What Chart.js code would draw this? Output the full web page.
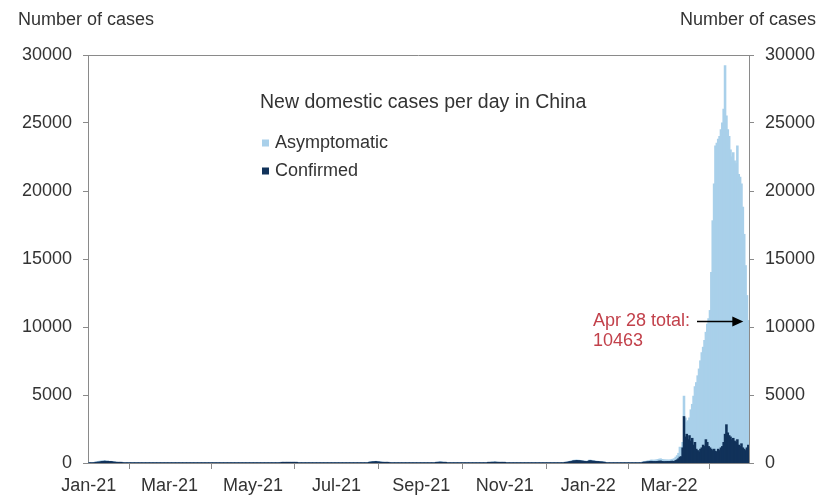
<!DOCTYPE html>
<html lang="en">
<head>
<meta charset="UTF-8">
<title>New domestic cases per day in China</title>
<script src="https://cdn.jsdelivr.net/npm/chart.js"></script>
<style>
  html, body { margin: 0; padding: 0; background: #fff; }
  #wrap { width: 821px; height: 497px; }
</style>
</head>
<body>
<div id="wrap"><canvas id="casesChart"></canvas></div>
<script>
// one bar per day
const firstDay = '2021-01-01';
const lastDay = '2022-04-28';

// x axis: first day of every other month
const tickDays = ['2021-01-01', '2021-03-01', '2021-05-01', '2021-07-01', '2021-09-01', '2021-11-01', '2022-01-01', '2022-03-01'];
const tickLabels = ['Jan-21', 'Mar-21', 'May-21', 'Jul-21', 'Sep-21', 'Nov-21', 'Jan-22', 'Mar-22'];

// Mar 1 - Apr 28 2022
const waveStart = '2022-03-01';
const waveConfirmed = [90, 100, 120, 110, 100, 170, 220, 300, 420, 450,
  1100, 3400, 1900, 2100, 1700, 2000, 1600, 1800, 1300, 1500,
  1000, 900, 800, 1000, 1100, 1300, 1200, 1700, 1500, 1200,
  1100, 1000, 900, 1000, 850, 800, 1000, 900, 1100, 1200,
  1500, 2100, 2800, 2200, 2000, 1900, 1700, 1800, 1600, 1500,
  1700, 1300, 1200, 1400, 1100, 1000, 900, 1100, 1300];
const waveAsymptomatic = [110, 110, 130, 160, 200, 250, 310, 400, 730, 650,
  400, 1500, 1400, 900, 1400, 1300, 2300, 2500, 3600, 4100,
  4900, 5500, 6100, 6500, 7000, 7200, 7800, 7900, 8700, 9400,
  10100, 13000, 16900, 19500, 22450, 22700, 22800, 23100, 23400, 23800,
  24500, 27100, 22700, 22300, 22000, 21100, 20800, 21000, 20600, 20500,
  21600, 19900, 19800, 19100, 17700, 15800, 13600, 11200, 9163];

// small outbreaks before that: [first day, confirmed, asymptomatic]
const smallOutbreaks = [
  ['2021-01-06', [20, 40, 50, 60, 80, 100, 110, 120, 100, 110, 90, 100, 80, 60, 50, 40, 30, 20, 15, 10],
                 [30, 40, 50, 60, 50, 40, 30, 30, 20, 20, 15, 10, 10, 8, 5, 5, 3, 2, 2, 1]],
  ['2021-05-22', [5, 8, 10, 15, 12, 10, 8, 6, 5, 4, 3, 2], [2, 3, 4, 5, 4, 3, 2, 2, 1, 1, 1, 1]],
  ['2021-07-25', [30, 50, 60, 70, 80, 90, 70, 60, 50, 40, 30, 25, 20, 15, 10],
                 [20, 25, 30, 30, 25, 20, 15, 10, 8, 6, 5, 4, 3, 2, 1]],
  ['2021-09-12', [20, 30, 40, 50, 40, 30, 20, 10], [10, 15, 20, 15, 10, 8, 5, 3]],
  ['2021-10-20', [10, 20, 30, 40, 40, 50, 40, 30, 30, 20, 20, 15, 10], [5, 8, 10, 12, 10, 8, 6, 5, 4, 3, 2, 2, 1]],
  ['2021-12-15', [20, 30, 50, 70, 90, 110, 140, 150, 160, 170, 160, 150, 140, 120, 110, 100, 90, 110, 160, 150, 130, 120, 110, 100, 90, 80, 70, 60, 50, 40],
                 [10, 10, 20, 20, 30, 30, 40, 40, 40, 30, 30, 30, 20, 20, 20, 20, 20, 30, 40, 40, 30, 30, 20, 20, 20, 20, 10, 10, 10, 10]],
  ['2022-02-10', [40, 50, 60, 70, 80, 100, 110, 100, 90, 90, 100, 110, 120, 130, 100, 90, 80, 90, 100],
                 [30, 40, 50, 60, 70, 80, 90, 100, 100, 110, 120, 130, 150, 160, 150, 140, 130, 120, 110]]
];

const axisTitle = 'Number of cases';
const legendTitle = 'New domestic cases per day in China';
const textGray = '#333333';
const axisGray = '#8a8a8a';
const noteRed = '#c2414b';
const fontFamily = 'Arial, "Liberation Sans", sans-serif';

// build the day list and fill the daily series
const days = [];
for (let t = Date.parse(firstDay); t <= Date.parse(lastDay); t += 86400000) {
  days.push(new Date(t).toISOString().slice(0, 10));
}
const confirmed = days.map(() => 0);
const asymptomatic = days.map(() => 0);

function putRun(start, conf, asym) {
  const i0 = days.indexOf(start);
  conf.forEach((v, k) => { confirmed[i0 + k] = v; });
  asym.forEach((v, k) => { asymptomatic[i0 + k] = v; });
}
smallOutbreaks.forEach(o => putRun(o[0], o[1], o[2]));
putRun(waveStart, waveConfirmed, waveAsymptomatic);

const tickText = {};
tickDays.forEach((d, i) => { tickText[d] = tickLabels[i]; });

Chart.defaults.font.family = fontFamily;
Chart.defaults.font.size = 18;
Chart.defaults.color = textGray;

// titles, legend, top frame line and the Apr 28 note
const overlay = {
  id: 'overlay',
  afterDraw(chart) {
    const { ctx, chartArea, scales } = chart;
    ctx.save();
    ctx.strokeStyle = axisGray;
    ctx.lineWidth = 1;
    ctx.beginPath();
    ctx.moveTo(chartArea.left, chartArea.top + 0.5);
    ctx.lineTo(chartArea.right, chartArea.top + 0.5);
    ctx.stroke();

    ctx.font = '18px ' + fontFamily;
    ctx.fillStyle = textGray;
    ctx.textBaseline = 'middle';
    ctx.textAlign = 'left';
    ctx.fillText(axisTitle, 18, 20);
    ctx.textAlign = 'right';
    ctx.fillText(axisTitle, 816, 20);

    ctx.textAlign = 'left';
    ctx.font = '19.5px ' + fontFamily;
    ctx.fillText(legendTitle, 260, 103);
    ctx.font = '18px ' + fontFamily;
    const items = [chart.data.datasets[1], chart.data.datasets[0]];
    items.forEach((ds, k) => {
      const y = 143 + k * 28;
      ctx.fillStyle = ds.backgroundColor;
      ctx.fillRect(262, y - 3.5, 7, 7);
      ctx.fillStyle = textGray;
      ctx.fillText(ds.label, 275, y);
    });

    const last = days.length - 1;
    const total = confirmed[last] + asymptomatic[last];
    const yA = Math.round(scales.y.getPixelForValue(total)) + 0.5;
    const xEnd = scales.x.getPixelForValue(last) - 5;
    const xStart = 697;
    ctx.fillStyle = noteRed;
    ctx.fillText('Apr 28 total:', 593, yA);
    ctx.fillText(String(total), 593, yA + 20);

    ctx.strokeStyle = '#000';
    ctx.lineWidth = 1.5;
    ctx.beginPath();
    ctx.moveTo(xStart, yA);
    ctx.lineTo(xEnd - 8, yA);
    ctx.stroke();
    ctx.fillStyle = '#000';
    ctx.beginPath();
    ctx.moveTo(xEnd, yA);
    ctx.lineTo(xEnd - 11, yA - 5);
    ctx.lineTo(xEnd - 11, yA + 5);
    ctx.closePath();
    ctx.fill();
    ctx.restore();
  }
};

const yTicks = {
  stepSize: 5000,
  padding: 11,
  color: textGray,
  callback: v => String(v)
};

new Chart(document.getElementById('casesChart'), {
  type: 'bar',
  data: {
    labels: days,
    datasets: [
      { label: 'Confirmed', data: confirmed, backgroundColor: '#11325a' },
      { label: 'Asymptomatic', data: asymptomatic, backgroundColor: '#a9d0ea' }
    ]
  },
  options: {
    responsive: true,
    maintainAspectRatio: false,
    animation: false,
    layout: { padding: { top: 55, left: 0, right: 0, bottom: 0 } },
    datasets: { bar: { barPercentage: 1, categoryPercentage: 1, borderWidth: 0, inflateAmount: 0.6 } },
    plugins: { legend: { display: false }, tooltip: { enabled: false } },
    scales: {
      x: {
        stacked: true,
        border: { color: axisGray },
        grid: { drawOnChartArea: false, tickLength: 6, color: axisGray },
        ticks: {
          autoSkip: false,
          maxRotation: 0,
          padding: 6,
          color: textGray,
          callback: (v, i) => tickText[days[i]] ?? null
        },
        afterFit: s => { s.height = 34; }
      },
      y: {
        stacked: true,
        min: 0,
        max: 30000,
        border: { color: axisGray },
        grid: { drawOnChartArea: false, tickLength: 5, color: axisGray },
        ticks: yTicks,
        afterFit: s => { s.width = 88; }
      },
      y2: {
        display: true,
        position: 'right',
        min: 0,
        max: 30000,
        border: { color: axisGray },
        grid: { drawOnChartArea: false, tickLength: 5, color: axisGray },
        ticks: yTicks,
        afterFit: s => { s.width = 72; }
      }
    }
  },
  plugins: [overlay]
});
</script>
</body>
</html>
